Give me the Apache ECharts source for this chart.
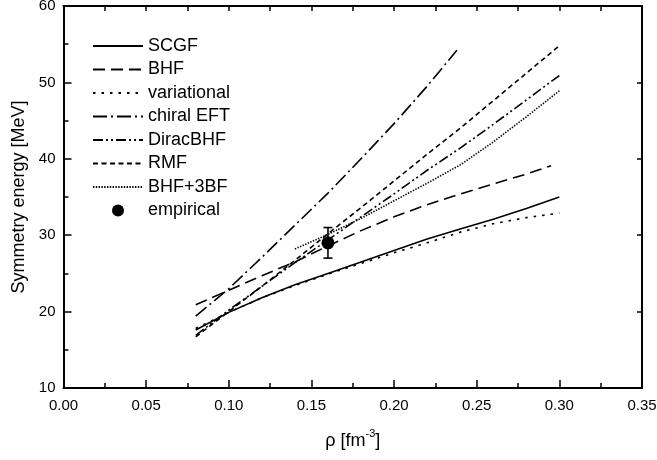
<!DOCTYPE html>
<html><head><meta charset="utf-8">
<script src="https://cdn.jsdelivr.net/npm/echarts@6/dist/echarts.min.js"></script>
<style>html,body{margin:0;padding:0;background:#fff}#c{width:657px;height:460px}</style>
</head><body><div id="c"></div>
<script>
// ---- data ----
const densities = [0.08, 0.10, 0.12, 0.14, 0.16, 0.18, 0.20, 0.22, 0.24, 0.26, 0.28, 0.30];
const scgf = [17.6, 19.9, 21.8, 23.5, 25.0, 26.5, 28.0, 29.5, 30.8, 32.1, 33.5, 35.0];
const variational = [17.8, 19.9, 21.8, 23.4, 24.9, 26.3, 27.7, 29.0, 30.4, 31.5, 32.3, 32.9];
const bhfX = [0.08, 0.10, 0.12, 0.14, 0.16, 0.18, 0.20, 0.22, 0.24, 0.26, 0.28, 0.295];
const bhf = [20.9, 22.8, 24.7, 26.5, 28.6, 30.6, 32.4, 34.0, 35.4, 36.7, 38.0, 39.1];
const chiralX = [0.08, 0.10, 0.12, 0.14, 0.16, 0.18, 0.20, 0.22, 0.238];
const chiral = [19.4, 23.0, 27.1, 31.3, 35.5, 40.0, 44.6, 49.5, 54.2];
const dirac = [16.9, 20.2, 23.3, 26.4, 29.4, 32.4, 35.4, 38.5, 41.4, 44.5, 47.7, 50.9];
const rmf = [16.7, 20.0, 23.3, 26.7, 30.2, 33.6, 37.1, 40.6, 44.0, 47.6, 51.2, 54.8];
const bhf3bfX = [0.14, 0.16, 0.18, 0.20, 0.22, 0.24, 0.26, 0.28, 0.30];
const bhf3bf = [28.2, 30.1, 32.2, 34.5, 36.8, 39.2, 42.2, 45.5, 48.9];
const empiricalX = [0.16];
const empiricalY = [29.0];
const empiricalErr = [2.0];

const pairs = (xs, ys) => xs.map((x, i) => [x, ys[i]]);
const FONT = 'Liberation Sans, Arial, sans-serif';

function lineSeries(name, xs, ys, dash) {
  return {
    name, type: 'line', data: pairs(xs, ys), symbol: 'none', smooth: false,
    lineStyle: { color: '#000', width: 1.6, type: dash },
    itemStyle: { color: '#000' }, animation: false, z: 3
  };
}

const chart = echarts.init(document.getElementById('c'), null, { renderer: 'canvas' });
const tickCommon = { color: '#000', width: 1.5 };
const hidden = { opacity: 0 };
const option = {
  animation: false,
  backgroundColor: '#fff',
  grid: { left: 63.5, right: 15, top: 6, bottom: 72, outerBoundsMode: 'none', containLabel: false },
  legend: {
    orient: 'vertical', left: 92, top: 37, padding: 0,
    itemWidth: 50, itemHeight: 12, itemGap: 5.5,
    itemStyle: { opacity: 0 },
    textStyle: { fontFamily: FONT, fontSize: 18, color: '#000', lineHeight: 18 },
    data: ['SCGF', 'BHF', 'variational', 'chiral EFT', 'DiracBHF', 'RMF', 'BHF+3BF',
      { name: 'empirical', icon: 'circle', itemStyle: { opacity: 1, color: '#000' } }]
  },
  xAxis: [{
    type: 'value', min: 0, max: 0.35, interval: 0.05, position: 'bottom',
    name: '{a|ρ [fm}{s|-3}{a|]}', nameLocation: 'middle', nameGap: 40,
    nameTextStyle: { rich: {
      a: { fontFamily: FONT, fontSize: 18, color: '#000', lineHeight: 22, verticalAlign: 'bottom' },
      s: { fontFamily: FONT, fontSize: 11, color: '#000', lineHeight: 22, verticalAlign: 'top' } } },
    axisLine: { show: true, onZero: false, lineStyle: { color: '#000', width: 2 } },
    axisTick: { show: true, inside: true, length: 8, lineStyle: tickCommon },
    minorTick: { show: true, splitNumber: 2, length: 5, lineStyle: tickCommon },
    splitLine: { show: false },
    axisLabel: { fontFamily: FONT, fontSize: 15, color: '#000', margin: 10, formatter: v => v.toFixed(2) }
  }, {
    type: 'value', min: 0, max: 0.35, interval: 0.05, position: 'top',
    axisLine: { show: true, onZero: false, lineStyle: { color: '#000', width: 2 } },
    axisTick: { show: true, inside: true, length: 5, lineStyle: tickCommon },
    minorTick: { show: true, splitNumber: 2, length: 5, lineStyle: tickCommon },
    splitLine: { show: false }, axisLabel: { show: false }
  }],
  yAxis: [{
    type: 'value', min: 10, max: 60, interval: 10, position: 'left',
    name: 'Symmetry energy [MeV]', nameLocation: 'middle', nameGap: 35,
    nameTextStyle: { fontFamily: FONT, fontSize: 18, color: '#000' },
    axisLine: { show: true, onZero: false, lineStyle: { color: '#000', width: 2 } },
    axisTick: { show: true, inside: true, length: 8, lineStyle: tickCommon },
    minorTick: { show: true, splitNumber: 2, length: 5, lineStyle: tickCommon },
    splitLine: { show: false },
    axisLabel: { fontFamily: FONT, fontSize: 15, color: '#000', margin: 8 }
  }, {
    type: 'value', min: 10, max: 60, interval: 10, position: 'right',
    axisLine: { show: true, onZero: false, lineStyle: { color: '#000', width: 2 } },
    axisTick: { show: true, inside: true, length: 5, lineStyle: tickCommon },
    minorTick: { show: false },
    splitLine: { show: false }, axisLabel: { show: false }
  }],
  series: [
    lineSeries('SCGF', densities, scgf, 'solid'),
    lineSeries('BHF', bhfX, bhf, [12, 6]),
    lineSeries('variational', densities, variational, [2.5, 6]),
    lineSeries('chiral EFT', chiralX, chiral, [14, 4, 2, 4]),
    lineSeries('DiracBHF', densities, dirac, [10, 3, 2, 3, 2, 3]),
    lineSeries('RMF', densities, rmf, [5, 3.5]),
    lineSeries('BHF+3BF', bhf3bfX, bhf3bf, [1.4, 1.4]),
    {
      name: 'errbar', type: 'custom', z: 4,
      data: empiricalX.map((x, i) => [x, empiricalY[i] - empiricalErr[i], empiricalY[i] + empiricalErr[i]]),
      renderItem: (params, api) => {
        const lo = api.coord([api.value(0), api.value(1)]);
        const hi = api.coord([api.value(0), api.value(2)]);
        const w = 4.5;
        const st = { stroke: '#000', lineWidth: 1.6 };
        return { type: 'group', children: [
          { type: 'line', shape: { x1: lo[0], y1: lo[1], x2: hi[0], y2: hi[1] }, style: st },
          { type: 'line', shape: { x1: lo[0] - w, y1: lo[1], x2: lo[0] + w, y2: lo[1] }, style: st },
          { type: 'line', shape: { x1: hi[0] - w, y1: hi[1], x2: hi[0] + w, y2: hi[1] }, style: st }
        ] };
      },
      animation: false
    },
    {
      name: 'empirical', type: 'scatter', data: pairs(empiricalX, empiricalY),
      symbol: 'circle', symbolSize: 13, itemStyle: { color: '#000', opacity: 1 }, z: 5, animation: false
    }
  ]
};
chart.setOption(option);
</script>
</body></html>
